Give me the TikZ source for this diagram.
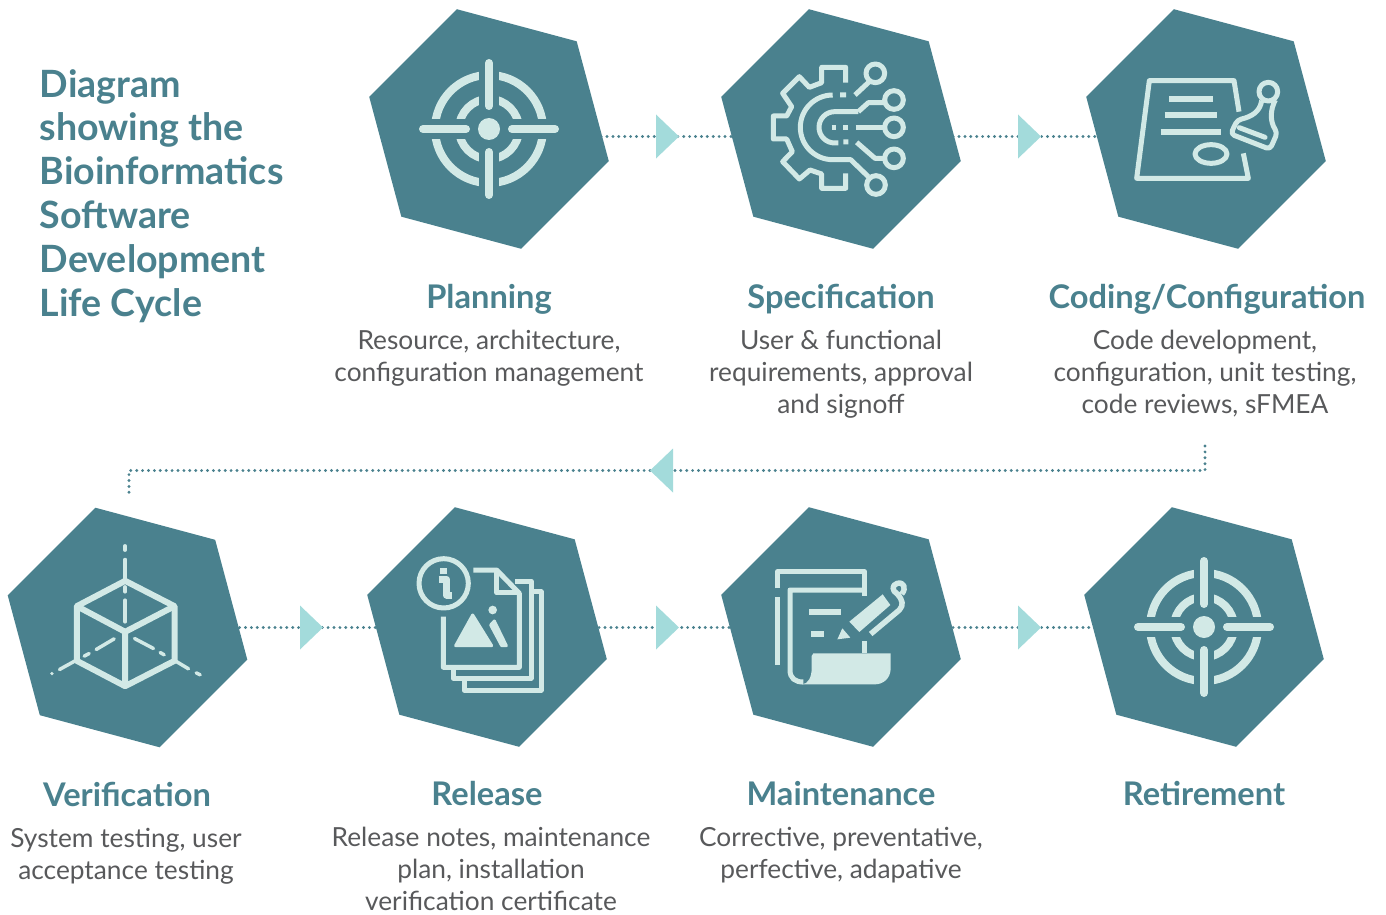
\documentclass[tikz,border=0pt]{standalone}
\usepackage{fontspec}
\setmainfont{Lato}
\usetikzlibrary{shapes.geometric,backgrounds}

\definecolor{hexcol}{HTML}{4A818E}
\definecolor{iconcol}{HTML}{D2E9E6}
\definecolor{tricol}{HTML}{A3DBDB}
\definecolor{bodycol}{HTML}{58595B}

\tikzset{
    hexbox/.style={regular polygon, regular polygon sides=6, shape border rotate=-15,
        minimum size=248pt, inner sep=0pt, outer sep=0pt, fill=hexcol},
    flowtri/.style={isosceles triangle, isosceles triangle apex angle=88, isosceles triangle stretches,
        minimum width=44pt, minimum height=23pt, inner sep=0pt, outer sep=0pt, fill=tricol, anchor=apex},
    dotline/.style={draw=hexcol, line width=3.2pt, line cap=round, dash pattern=on 0pt off 5.9pt},
    titletext/.style={text=hexcol, align=left, anchor=north west, inner sep=0pt,
        font=\fontsize{37.6}{43.8}\selectfont\bfseries},
    headtext/.style={text=hexcol, inner sep=0pt, anchor=base, font=\fontsize{32.6}{36}\selectfont\bfseries},
    bodytext/.style={text=bodycol, align=center, anchor=north, inner sep=0pt,
        font=\fontsize{26.3}{32}\selectfont},
    iconline/.style={draw=iconcol, line width=5pt, line join=round},
    iconfill/.style={fill=iconcol, draw=iconcol, line width=1pt, line join=round},
    targetmark/.pic={
        \draw[iconcol, line width=8pt] (0,0) circle (54) (0,0) circle (30);
        \draw[hexcol, line width=20pt] (-62,0) -- (62,0) (0,-62) -- (0,62);
        \draw[iconcol, line width=8pt, line cap=round] (-66,0) -- (-23,0) (23,0) -- (66,0)
            (0,-66) -- (0,-23) (0,23) -- (0,66);
        \fill[iconcol] (0,0) circle (11);
    }
}

\begin{document}
\begin{tikzpicture}[x=1pt, y=-1pt]
    \useasboundingbox (0,0) rectangle (1386,915);

    % top row
    \node[hexbox] (plan) at (489,129) {};
    \node[hexbox] (spec) at (841,129) {};
    \node[hexbox] (code) at (1206,129) {};
    % bottom row
    \node[hexbox] (veri) at (127.5,627.5) {};
    \node[hexbox] (rele) at (487,627) {};
    \node[hexbox] (main) at (841,627) {};
    \node[hexbox] (reti) at (1204,627) {};

    \node[flowtri] (triA) at (679,136.5) {};
    \node[flowtri] (triB) at (1041,136.5) {};
    \node[flowtri, shape border rotate=180] (triC) at (650,470.5) {};
    \node[flowtri] (triD) at (323,627.5) {};
    \node[flowtri] (triE) at (679,627.5) {};
    \node[flowtri] (triF) at (1041,627.5) {};

    \coordinate (stubA) at (1205,446);
    \coordinate (stubB) at (129,495);

    \begin{pgfonlayer}{background}
        \draw[dotline] (plan |- triA) -- (spec |- triA);
        \draw[dotline] (spec |- triB) -- (code |- triB);
        \draw[dotline] (stubA) |- (triC) -| (stubB);
        \draw[dotline] (veri |- triD) -- (rele |- triD);
        \draw[dotline] (rele |- triE) -- (main |- triE);
        \draw[dotline] (main |- triF) -- (reti |- triF);
    \end{pgfonlayer}

    % icons
    \pic at (plan) {targetmark};
    \pic at (reti) {targetmark};

    % gear
    \begin{scope}[shift={(spec)}, scale=1/3, shift={(-273,-267)}]
        \draw[iconline] (287,128) -- (287,82) -- (215,82) -- (215,128) -- (178,142) -- (148,110)
            -- (98,160) -- (125,200) -- (110,228) -- (70,228) -- (70,297) -- (110,297) -- (127,335)
            -- (98,365) -- (148,417) -- (180,390) -- (215,402) -- (215,445) -- (287,445) -- (287,400);
        \draw[iconline] (248,165) arc[start angle=-90, end angle=-270, radius=97] -- (302,359) -- (355,410);
        \draw[iconline] (325,215) -- (254,215) arc[start angle=-90, end angle=-270, radius=47] -- (265,309);
        \draw[iconline] (270,165) -- (288,165) (315,165) -- (358,125);
        \draw[iconline] (325,215) -- (355,188) -- (405,188);
        \draw[iconline] (245,262) -- (258,262) (280,262) -- (295,262) (317,262) -- (405,262);
        \draw[iconline] (280,306) -- (295,306) (320,307) -- (375,355) -- (405,355);
        \draw[iconline] (376,100) circle (28) (432,180) circle (28) (432,262) circle (28)
            (432,355) circle (28) (378,435) circle (28);
    \end{scope}

    % stamp
    \begin{scope}[shift={(code)}, scale=1/3, shift={(-258,-207)}]
        \draw[iconline] (357,155) -- (342,62) -- (88,62) -- (50,355) -- (385,355) -- (370,280);
        \draw[iconline, line width=6pt] (147,117) -- (280,117) (134,165) -- (292,165) (122,216) -- (302,216);
        \draw[iconline] (273,282) ellipse (48 and 28);
        \draw[iconline] (445,95) circle (28);
        \draw[iconline, rounded corners=4pt] (425,122) .. controls (420,155) and (395,170) .. (352,180)
            -- (332,222) -- (450,268) -- (472,218) .. controls (450,185) and (450,150) .. (466,120);
        \draw[iconline, line cap=round] (358,203) -- (435,232);
    \end{scope}

    % cube
    \begin{scope}[shift={(veri)}, scale=1/3, shift={(-262,-292)}]
        \draw[iconline, line width=6pt] (255,152) -- (403,228) -- (403,392) -- (255,468) -- (110,392)
            -- (110,228) -- cycle;
        \draw[iconline, line width=6pt] (110,228) -- (255,305) -- (403,228) (255,305) -- (255,468);
        \draw[iconline, line width=3.5pt, line cap=round] (255,47) -- (255,60) (255,88) -- (255,145)
            (255,170) -- (255,185) (255,210) -- (255,275);
        \draw[iconline, line width=3.5pt, line cap=round] (222,326) -- (168,358) (147,370) -- (132,378)
            (105,392) -- (58,418) (35,430) -- (35.5,430);
        \draw[iconline, line width=3.5pt, line cap=round] (283,325) -- (340,355) (360,367) -- (372,374)
            (405,392) -- (445,416) (468,428) -- (480,434);
    \end{scope}

    % files
    \begin{scope}[shift={(rele)}, scale=1/3, shift={(-261,-246)}]
        \draw[iconline] (131,115) circle (74);
        \draw[iconline] (220,75) -- (290,75) -- (358,145) -- (358,367) -- (130,367) -- (130,215);
        \draw[iconline] (290,75) -- (290,143) -- (358,143);
        \draw[iconline] (345,108) -- (393,108) -- (393,400) -- (160,400) -- (160,372);
        \draw[iconline] (400,140) -- (423,140) -- (423,435) -- (192,435) -- (192,403);
        \fill[iconcol] (120,68) rectangle (142,86);
        \draw[iconline, line width=7pt] (116,103) -- (140,103) -- (140,150) -- (156,150);
        \draw[iconfill, line width=3pt] (218,210) -- (275,302) -- (167,302) -- cycle;
        \draw[iconfill, line width=3pt] (283,228) -- (319,302) -- (305,302) -- (272,240) -- cycle;
        \fill[iconcol] (278,195) circle (13);
    \end{scope}

    % scroll and pen
    \begin{scope}[shift={(main)}, scale=1/3, shift={(-243,-201)}]
        \draw[iconline] (53,85) -- (53,35) -- (313,35) -- (313,108);
        \draw[iconline] (53,112) -- (53,315);
        \draw[iconline] (313,90) -- (90,90) -- (90,330) .. controls (90,355) and (105,366) .. (130,366);
        \fill[iconcol] (155,288) -- (160,280) -- (392,280) -- (392,325) .. controls (392,355) and (370,373) .. (345,373)
            -- (125,373) .. controls (145,373) and (155,350) .. (155,325) -- cycle;
        \draw[iconline, line width=6pt] (147,157) -- (242,157) (153,222) -- (192,222);
        \fill[iconcol] (232,238) -- (247,205) -- (271,233) -- cycle;
        \fill[iconcol] (268,185) -- (368,103) -- (391,135) -- (298,216) -- cycle;
        \draw[iconline, line width=5.5pt] (332,222) -- (418,150) .. controls (432,135) and (428,120) .. (412,102)
            .. controls (395,92) and (395,75) .. (412,70) .. controls (432,65) and (440,85) .. (425,102);
        \draw[iconline] (313,243) -- (313,280);
    \end{scope}

    % text
    \node[titletext] (title) at (39.5,69) {Diagram\\showing the\\Bioinformatics\\Software\\Development\\Life Cycle};

    \node[headtext] (planHead) at (489,308) {Planning};
    \node[headtext] (specHead) at (841,308) {Specification};
    \node[headtext] (codeHead) at (1207,308) {Coding/Configuration};
    \node[headtext] (veriHead) at (127,806) {Verification};
    \node[headtext] (releHead) at (487,805) {Release};
    \node[headtext] (mainHead) at (841,805) {Maintenance};
    \node[headtext] (retiHead) at (1204,805) {Retirement};

    \node[bodytext] (planBody) at (489,330) {Resource, architecture,\\configuration management};
    \node[bodytext] (specBody) at (841,330) {User \& functional\\requirements, approval\\and signoff};
    \node[bodytext] (codeBody) at (1205,330) {Code development,\\configuration, unit testing,\\code reviews, sFMEA};
    \node[bodytext] (veriBody) at (126,828) {System testing, user\\acceptance testing};
    \node[bodytext] (releBody) at (491,827) {Release notes, maintenance\\plan, installation\\verification certificate};
    \node[bodytext] (mainBody) at (841,827) {Corrective, preventative,\\perfective, adapative};
\end{tikzpicture}
\end{document}
